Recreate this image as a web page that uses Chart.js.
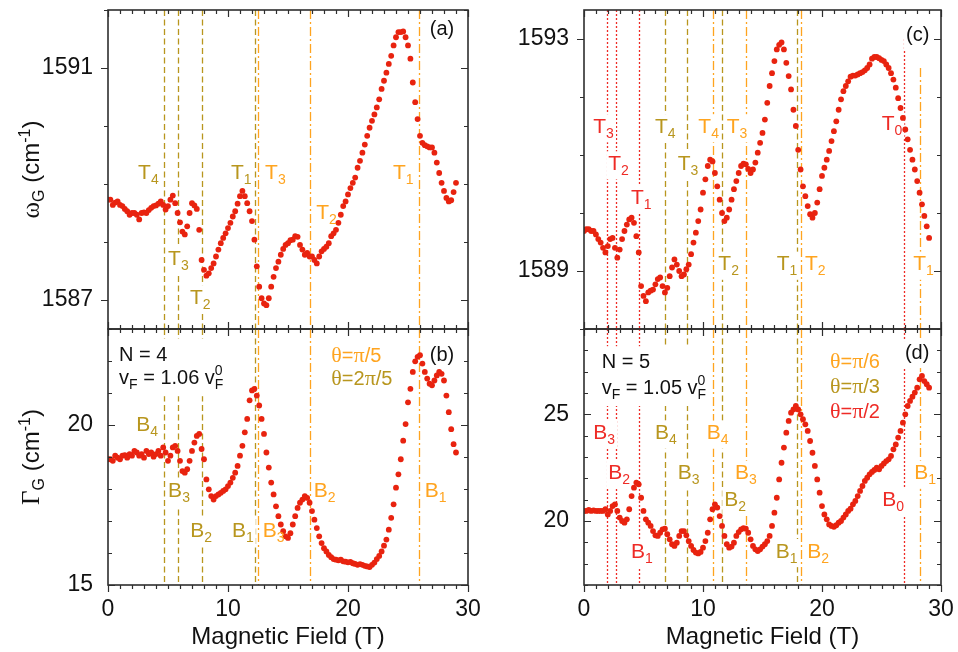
<!DOCTYPE html>
<html>
<head>
<meta charset="utf-8">
<script src="https://cdn.jsdelivr.net/npm/chart.js@4.4.1/dist/chart.umd.min.js"></script>
<style>
  html, body { margin: 0; padding: 0; background: #fff; }
  #wrap { position: relative; width: 958px; height: 652px; overflow: hidden; }
  #wrap canvas { position: absolute; left: 0; top: 0; }
</style>
</head>
<body>
<div id="wrap">
  <canvas id="pa" width="958" height="652"></canvas>
  <canvas id="pb" width="958" height="652"></canvas>
  <canvas id="pc" width="958" height="652"></canvas>
  <canvas id="pd" width="958" height="652"></canvas>
</div>
<script>
// Magnetic field (T) at which every spectrum was taken
const field = [0,0.2,0.4,0.6,0.8,1,1.2,1.4,1.6,1.8,2,2.2,2.4,2.6,2.8,3,3.2,3.4,3.6,3.8,4,4.2,4.4,4.6,4.8,
  5,5.2,5.4,5.6,5.8,6,6.2,6.4,6.6,6.8,7,7.2,7.4,7.6,7.8,8,8.2,8.4,8.6,8.8,9,9.2,9.4,9.6,9.8,
  10,10.2,10.4,10.6,10.8,11,11.2,11.4,11.6,11.8,12,12.2,12.4,12.6,12.8,13,13.2,13.4,13.6,13.8,14,14.2,14.4,14.6,14.8,
  15,15.2,15.4,15.6,15.8,16,16.2,16.4,16.6,16.8,17,17.2,17.4,17.6,17.8,18,18.2,18.4,18.6,18.8,19,19.2,19.4,19.6,19.8,
  20,20.2,20.4,20.6,20.8,21,21.2,21.4,21.6,21.8,22,22.2,22.4,22.6,22.8,23,23.2,23.4,23.6,23.8,24,24.2,24.4,24.6,24.8,
  25,25.2,25.4,25.6,25.8,26,26.2,26.4,26.6,26.8,27,27.2,27.4,27.6,27.8,28,28.2,28.4,28.6,28.8,29];

// G-band position ω_G (cm^-1), N = 4
const omegaN4 = [1588.73,1588.73,1588.64,1588.68,1588.70,1588.64,1588.62,1588.57,1588.53,1588.47,
  1588.50,1588.50,1588.47,1588.39,1588.50,1588.51,1588.50,1588.55,1588.59,1588.62,
  1588.63,1588.66,1588.70,1588.64,1588.56,1588.62,1588.73,1588.80,1588.67,1588.50,
  1588.34,1588.18,1588.13,1588.27,1588.50,1588.67,1588.63,1588.57,1588.21,1587.69,
  1587.52,1587.42,1587.46,1587.55,1587.63,1587.75,1587.87,1587.98,1588.07,1588.15,
  1588.24,1588.33,1588.44,1588.53,1588.66,1588.79,1588.88,1588.79,1588.67,1588.53,
  1588.36,1588.04,1587.58,1587.23,1587.03,1586.94,1586.91,1587.03,1587.23,1587.40,
  1587.55,1587.66,1587.78,1587.88,1587.95,1587.98,1588.03,1588.04,1588.10,1588.09,
  1587.95,1587.87,1587.78,1587.81,1587.75,1587.75,1587.69,1587.63,1587.75,1587.84,
  1587.88,1587.92,1587.98,1588.10,1588.15,1588.21,1588.33,1588.47,1588.62,1588.70,
  1588.82,1588.93,1589.02,1589.11,1589.28,1589.40,1589.54,1589.68,1589.83,1589.97,
  1590.09,1590.20,1590.32,1590.46,1590.64,1590.78,1590.92,1591.07,1591.21,1591.39,
  1591.53,1591.62,1591.62,1591.63,1591.53,1591.39,1591.16,1590.75,1590.41,1590.12,
  1589.83,1589.71,1589.67,1589.65,1589.63,1589.63,1589.54,1589.37,1589.19,1589.02,
  1588.88,1588.76,1588.70,1588.72,1588.86,1589.02];

// G-band width Γ_G (cm^-1), N = 4
const gammaN4 = [18.93,18.93,18.88,19.04,18.98,18.93,19.04,19.06,18.98,19.09,
  19.04,19.19,19.14,19.04,19.09,18.98,19.19,19.09,19.14,19.01,
  19.09,19.19,19.04,19.30,19.14,18.88,19.04,19.30,19.35,19.19,
  18.88,18.56,18.51,18.62,18.88,19.19,19.45,19.66,19.72,19.25,
  18.93,18.30,17.99,17.78,17.67,17.78,17.83,17.88,17.94,17.99,
  18.09,18.20,18.35,18.51,18.72,19.04,19.35,19.77,20.19,20.77,
  21.08,21.13,20.92,20.61,20.19,19.72,19.14,18.67,18.20,17.83,
  17.46,17.15,16.89,16.68,16.52,16.47,16.62,16.89,17.15,17.41,
  17.57,17.67,17.78,17.72,17.57,17.31,17.04,16.78,16.52,16.31,
  16.15,16.05,15.94,15.87,15.81,15.79,15.77,15.79,15.74,15.73,
  15.71,15.72,15.68,15.66,15.63,15.65,15.63,15.60,15.58,15.56,
  15.63,15.70,15.81,15.91,16.05,16.23,16.42,16.73,17.10,17.52,
  18.04,18.46,18.93,19.51,20.03,20.71,21.13,21.66,21.99,22.13,
  22.18,21.92,21.66,21.45,21.29,21.24,21.39,21.55,21.66,21.60,
  21.39,20.92,20.40,19.87,19.40,19.14];

// G-band position ω_G (cm^-1), N = 5
const omegaN5 = [1589.69,1589.72,1589.72,1589.69,1589.69,1589.63,1589.55,1589.49,1589.40,1589.32,
  1589.43,1589.55,1589.57,1589.40,1589.23,1589.37,1589.55,1589.69,1589.80,1589.89,
  1589.92,1589.83,1589.60,1589.32,1588.74,1588.57,1588.48,1588.63,1588.66,1588.68,
  1588.77,1588.86,1588.89,1588.74,1588.63,1588.71,1588.91,1589.06,1589.20,1589.11,
  1589.00,1588.91,1588.94,1589.03,1589.11,1589.29,1589.49,1589.66,1589.86,1590.06,
  1590.35,1590.58,1590.81,1590.92,1590.89,1590.69,1590.46,1590.23,1590.00,1589.86,
  1589.92,1590.06,1590.23,1590.41,1590.55,1590.69,1590.81,1590.85,1590.84,1590.76,
  1590.69,1590.75,1590.87,1591.04,1591.21,1591.38,1591.61,1591.90,1592.19,1592.41,
  1592.62,1592.82,1592.90,1592.94,1592.82,1592.59,1592.36,1592.13,1591.78,1591.50,
  1591.09,1590.75,1590.46,1590.29,1590.12,1589.98,1589.92,1590.00,1590.18,1590.41,
  1590.64,1590.78,1590.92,1591.07,1591.24,1591.41,1591.58,1591.78,1591.96,1592.10,
  1592.19,1592.27,1592.35,1592.37,1592.37,1592.39,1592.41,1592.43,1592.46,1592.50,
  1592.56,1592.66,1592.69,1592.69,1592.67,1592.64,1592.62,1592.56,1592.50,1592.41,
  1592.30,1592.16,1591.98,1591.81,1591.64,1591.44,1591.27,1591.09,1590.92,1590.75,
  1590.55,1590.35,1590.15,1589.95,1589.77,1589.57];

// G-band width Γ_G (cm^-1), N = 5
const gammaN5 = [20.47,20.47,20.52,20.47,20.50,20.47,20.47,20.47,20.47,20.55,
  20.31,20.47,20.70,20.78,20.47,20.16,20.00,19.92,20.08,20.55,
  21.17,21.56,21.80,21.72,21.09,20.47,20.08,19.92,19.77,19.53,
  19.33,19.30,19.45,19.61,19.64,19.38,19.14,18.91,18.83,18.98,
  19.30,19.53,19.53,19.33,19.06,18.83,18.64,18.52,18.48,18.55,
  18.75,19.06,19.45,20.08,20.55,20.78,20.63,20.23,19.77,19.30,
  18.91,18.75,18.80,18.98,19.30,19.48,19.61,19.66,19.64,19.45,
  19.14,18.83,18.67,18.59,18.67,18.80,18.91,19.06,19.30,19.77,
  20.39,21.09,21.95,22.73,23.44,24.14,24.69,25.08,25.23,25.39,
  25.23,25.00,24.77,24.53,24.22,23.75,23.20,22.58,21.95,21.33,
  20.70,20.31,20.08,19.84,19.77,19.73,19.80,19.92,20.00,20.16,
  20.31,20.47,20.58,20.78,20.94,21.17,21.41,21.64,21.88,22.03,
  22.19,22.30,22.39,22.50,22.42,22.58,22.70,22.81,22.89,23.05,
  23.36,23.59,23.91,24.22,24.61,25.00,25.39,25.63,25.83,26.02,
  26.25,26.64,26.80,26.56,26.41,26.25];

// Axis ticks
const xTickVals = [0,1,2,3,4,5,6,7,8,9,10,11,12,13,14,15,16,17,18,19,20,21,22,23,24,25,26,27,28,29,30];
const xLabelVals = [0,10,20,30];
const omegaN4Ticks = [1587,1588,1589,1590,1591,1592];
const omegaN4Labels = [1587,1591];
const gammaN4Ticks = [15,16,17,18,19,20,21,22,23];
const gammaN4Labels = [15,20];
const omegaN5Ticks = [1588,1589,1590,1591,1592,1593];
const omegaN5Labels = [1589,1593];
const gammaN5Ticks = [17,18,19,20,21,22,23,24,25,26,27,28,29];
const gammaN5Labels = [20,25];

// Calculated resonance fields (T) for each tilt angle
const n4Olive = [4.66, 5.80, 7.84, 12.25];      // θ = 2π/5
const n4Orange = [12.53, 16.82, 25.92];         // θ = π/5
const n5Red = [1.90, 2.69, 4.62, 26.89];        // θ = π/2
const n5RedFrom = [null, null, null, 1593];
const n5Olive = [6.78, 8.63, 11.60, 17.87];     // θ = π/3
const n5Orange = [10.80, 13.62, 18.21, 28.23];  // θ = π/6
const n5OrangeFrom = [null, null, null, 1592.5];

const SANS = "'Liberation Sans', Arial, sans-serif";
const SERIF = "'Liberation Serif', 'Times New Roman', serif";
const INK = '#111111';
const AXIS = '#2e2e2e';
const DOT = '#e8230f';
const OLIVE = '#b8961e';
const ORANGE = '#ffa41f';
const RED = '#ee2b26';
const DASH = { olive: [6, 3.5], orange: [9, 3, 2, 3], red: [2, 2] };

// rich-text helpers: a run is {t, s(size), f(font), dy, stay}
function fontOf(r) { return `${r.s}px ${r.f || SANS}`; }
function layoutRuns(ctx, runs) {
  let w = 0;
  const items = runs.map(r => {
    ctx.font = fontOf(r);
    const rw = ctx.measureText(r.t).width;
    const it = Object.assign({}, r, { ox: w, w: rw });
    if (!r.stay) w += rw;
    return it;
  });
  return { items, w };
}
function drawRuns(ctx, runs, x, baseline, color) {
  const L = layoutRuns(ctx, runs);
  ctx.fillStyle = color;
  ctx.textBaseline = 'alphabetic';
  ctx.textAlign = 'left';
  L.items.forEach(it => { ctx.font = fontOf(it); ctx.fillText(it.t, x + it.ox, baseline + (it.dy || 0)); });
  return L.w;
}
const lbl = (letter, n, x, y, color) => ({ runs: [{ t: letter, s: 21 }, { t: n, s: 14, dy: 5 }], x, y, color });
const txt = (runs, x, y, color, pad, minW) => ({ runs, x, y, color, pad, minW });
const theta = (a, b, tail) => [{ t: 'θ', s: 22, f: SERIF }, { t: '=' + a, s: 20 }, { t: 'π', s: 22, f: SERIF }, { t: tail, s: 20 }];
const vF = v => [{ t: 'v', s: 20 }, { t: 'F', s: 14, dy: 5 }, { t: ' = ' + v + ' v', s: 20 }, { t: '0', s: 14, dy: -9, stay: true }, { t: 'F', s: 14, dy: 5 }];

function labelGeom(ctx, lb, xs, ys) {
  const px = xs.getPixelForValue(lb.x);
  const py = ys.getPixelForValue(lb.y);
  const s0 = lb.runs[0].s;
  const base = py + 0.36 * s0;
  const w = Math.max(layoutRuns(ctx, lb.runs).w, lb.minW || 0);
  const pad = lb.pad == null ? 2 : lb.pad;
  return { px, base, box: [px - pad, base - 0.8 * s0 - pad, w + 2 * pad, 1.15 * s0 + 2 * pad] };
}

function panelPlugin(p) {
  return {
    id: 'panel_' + p.key,
    beforeDatasetsDraw(chart) {
      const { ctx, chartArea: a, scales: { x, y } } = chart;
      ctx.save();
      ctx.beginPath();
      ctx.rect(a.left, a.top, a.right - a.left, a.bottom - a.top);
      ctx.clip();
      p.lines.forEach(L => {
        const px = Math.round(x.getPixelForValue(L.x)) + 0.5;
        const top = L.from != null ? y.getPixelForValue(L.from) : a.top;
        ctx.strokeStyle = L.color;
        ctx.lineWidth = 1.3;
        ctx.setLineDash(L.dash);
        ctx.beginPath();
        ctx.moveTo(px, top);
        ctx.lineTo(px, a.bottom);
        ctx.stroke();
      });
      ctx.setLineDash([]);
      ctx.fillStyle = '#ffffff';
      p.labels.forEach(lb => {
        const g = labelGeom(ctx, lb, x, y);
        ctx.fillRect(g.box[0], g.box[1], g.box[2], g.box[3]);
      });
      ctx.restore();
    },
    afterDatasetsDraw(chart) {
      const { ctx, chartArea: a, scales: { x, y } } = chart;
      ctx.save();
      p.labels.forEach(lb => {
        const g = labelGeom(ctx, lb, x, y);
        drawRuns(ctx, lb.runs, g.px, g.base, lb.color);
      });
      // frame
      ctx.strokeStyle = AXIS;
      ctx.lineWidth = 1.6;
      ctx.strokeRect(a.left, a.top, a.right - a.left, a.bottom - a.top);
      // tick marks on all four sides
      ctx.lineWidth = 1.2;
      ctx.beginPath();
      xTickVals.forEach(v => {
        const px = Math.round(x.getPixelForValue(v)) + 0.5;
        const len = xLabelVals.includes(v) ? 7 : 4;
        ctx.moveTo(px, a.top); ctx.lineTo(px, a.top + len);
        if (p.bottomOut) { ctx.moveTo(px, a.bottom); ctx.lineTo(px, a.bottom + len); }
        else { ctx.moveTo(px, a.bottom); ctx.lineTo(px, a.bottom - len); }
      });
      p.yTicks.forEach(v => {
        const py = Math.round(y.getPixelForValue(v)) + 0.5;
        const len = p.yLabels.includes(v) ? 7 : 4;
        if (p.leftOut) { ctx.moveTo(a.left, py); ctx.lineTo(a.left - len, py); }
        else { ctx.moveTo(a.left, py); ctx.lineTo(a.left + len, py); }
        ctx.moveTo(a.right, py); ctx.lineTo(a.right - len, py);
      });
      ctx.stroke();
      ctx.restore();
    },
    afterDraw(chart) {
      if (!p.title) return;
      const { ctx, chartArea: a } = chart;
      ctx.save();
      const w = layoutRuns(ctx, p.title).w;
      ctx.translate(p.titleX, (a.top + a.bottom) / 2);
      ctx.rotate(-Math.PI / 2);
      drawRuns(ctx, p.title, -w / 2, 8.5, INK);
      ctx.restore();
    }
  };
}

function makePanel(id, p) {
  return new Chart(document.getElementById(id), {
    type: 'scatter',
    data: {
      datasets: [{
        data: field.map((f, i) => ({ x: f, y: p.values[i] })),
        pointRadius: 2.9,
        pointBackgroundColor: DOT,
        pointBorderWidth: 0,
        showLine: false
      }]
    },
    options: {
      responsive: false,
      animation: false,
      events: [],
      layout: { padding: p.padding },
      plugins: { legend: { display: false }, tooltip: { enabled: false } },
      scales: {
        x: {
          type: 'linear', position: 'bottom', min: 0, max: 30,
          display: p.showX,
          grid: { display: false, drawTicks: false },
          border: { display: false },
          afterBuildTicks: s => { s.ticks = xTickVals.map(v => ({ value: v })); },
          afterFit: s => {
            s.height = p.showX ? 67 : 0;
            s.paddingLeft = 0; s.paddingRight = 0; s.paddingTop = 0; s.paddingBottom = 0;
          },
          ticks: {
            padding: 11, color: INK, autoSkip: false, maxRotation: 0,
            font: { family: SANS, size: 23 },
            callback: v => (xLabelVals.includes(v) ? String(v) : '')
          },
          title: {
            display: true, text: 'Magnetic Field (T)', color: INK,
            font: { family: SANS, size: 24 }, padding: { top: 0, bottom: 0 }
          }
        },
        y: {
          type: 'linear', position: 'left', min: p.yMin, max: p.yMax,
          grid: { display: false, drawTicks: false },
          border: { display: false },
          afterBuildTicks: s => { s.ticks = p.yTicks.map(v => ({ value: v })); },
          afterFit: s => {
            s.width = p.yWidth;
            s.paddingLeft = 0; s.paddingRight = 0; s.paddingTop = 0; s.paddingBottom = 0;
          },
          ticks: {
            padding: 15, color: INK, autoSkip: false,
            font: { family: SANS, size: 23 },
            callback: v => (p.yLabels.includes(v) ? String(v) : '')
          }
        }
      }
    },
    plugins: [panelPlugin(p)]
  });
}

const lineSet = (vals, color, dash, from) => vals.map((f, i) => ({ x: f, color, dash, from: from ? from[i] : null }));
const leftLines = [...lineSet(n4Olive, OLIVE, DASH.olive), ...lineSet(n4Orange, ORANGE, DASH.orange)];

// (a) ω_G, N = 4
makePanel('pa', {
  key: 'a', values: omegaN4, yMin: 1586.5, yMax: 1592.0,
  yTicks: omegaN4Ticks, yLabels: omegaN4Labels,
  yWidth: 108, showX: false, leftOut: true, bottomOut: false,
  padding: { left: 0, top: 10, right: 490, bottom: 323 },
  lines: leftLines,
  labels: [
    lbl('T', '4', 2.51, 1589.21, OLIVE), lbl('T', '3', 5.01, 1587.73, OLIVE),
    lbl('T', '2', 6.83, 1587.06, OLIVE), lbl('T', '1', 10.25, 1589.21, OLIVE),
    lbl('T', '3', 13.09, 1589.21, ORANGE), lbl('T', '2', 17.35, 1588.52, ORANGE),
    lbl('T', '1', 23.75, 1589.21, ORANGE),
    txt([{ t: '(a)', s: 20 }], 26.82, 1591.70, INK)
  ],
  title: [{ t: 'ω', s: 25, f: SERIF }, { t: 'G', s: 16, dy: 5 }, { t: ' (cm', s: 24 }, { t: '-1', s: 16, dy: -9 }, { t: ')', s: 24 }],
  titleX: 30
});

// (b) Γ_G, N = 4
makePanel('pb', {
  key: 'b', values: gammaN4, yMin: 15, yMax: 23,
  yTicks: gammaN4Ticks, yLabels: gammaN4Labels,
  yWidth: 108, showX: true, leftOut: false, bottomOut: true,
  padding: { left: 0, top: 329, right: 490, bottom: 0 },
  lines: leftLines,
  labels: [
    lbl('B', '4', 2.36, 20.06, OLIVE), lbl('B', '3', 5.01, 17.99, OLIVE),
    lbl('B', '2', 6.85, 16.73, OLIVE), lbl('B', '1', 10.33, 16.73, OLIVE),
    lbl('B', '3', 12.89, 16.73, ORANGE), lbl('B', '2', 17.15, 17.99, ORANGE),
    lbl('B', '1', 26.40, 17.99, ORANGE),
    txt([{ t: 'N = 4', s: 20 }], 0.92, 22.23, INK, 6, 106),
    txt(vF('1.06'), 0.92, 21.50, INK, 5),
    txt(theta('', '', '/5'), 18.61, 22.21, ORANGE),
    txt(theta('2', '', '/5'), 18.61, 21.51, OLIVE),
    txt([{ t: '(b)', s: 20 }], 26.82, 22.23, INK)
  ],
  title: [{ t: 'Γ', s: 25, f: SERIF }, { t: 'G', s: 16, dy: 5 }, { t: ' (cm', s: 24 }, { t: '-1', s: 16, dy: -9 }, { t: ')', s: 24 }],
  titleX: 30
});

const rightLines = [
  ...lineSet(n5Red, RED, DASH.red, n5RedFrom),
  ...lineSet(n5Olive, OLIVE, DASH.olive),
  ...lineSet(n5Orange, ORANGE, DASH.orange, n5OrangeFrom)
];
const rightLinesLower = [
  ...lineSet(n5Red, RED, DASH.red),
  ...lineSet(n5Olive, OLIVE, DASH.olive),
  ...lineSet(n5Orange, ORANGE, DASH.orange)
];

// (c) ω_G, N = 5
makePanel('pc', {
  key: 'c', values: omegaN5, yMin: 1588.0, yMax: 1593.5,
  yTicks: omegaN5Ticks, yLabels: omegaN5Labels,
  yWidth: 584, showX: false, leftOut: true, bottomOut: false,
  padding: { left: 0, top: 10, right: 17, bottom: 323 },
  lines: rightLines,
  labels: [
    lbl('T', '3', 0.78, 1591.51, RED), lbl('T', '2', 2.04, 1590.87, RED),
    lbl('T', '1', 3.95, 1590.29, RED), lbl('T', '0', 25.02, 1591.57, RED),
    lbl('T', '4', 5.97, 1591.51, OLIVE), lbl('T', '3', 7.87, 1590.87, OLIVE),
    lbl('T', '2', 11.29, 1589.14, OLIVE), lbl('T', '1', 16.19, 1589.14, OLIVE),
    lbl('T', '4', 9.61, 1591.51, ORANGE), lbl('T', '3', 11.99, 1591.51, ORANGE),
    lbl('T', '2', 18.57, 1589.14, ORANGE), lbl('T', '1', 27.67, 1589.14, ORANGE),
    txt([{ t: '(c)', s: 20 }], 27.06, 1593.09, INK)
  ]
});

// (d) Γ_G, N = 5
makePanel('pd', {
  key: 'd', values: gammaN5, yMin: 17, yMax: 29,
  yTicks: gammaN5Ticks, yLabels: gammaN5Labels,
  yWidth: 584, showX: true, leftOut: false, bottomOut: true,
  padding: { left: 0, top: 329, right: 17, bottom: 0 },
  lines: rightLinesLower,
  labels: [
    lbl('B', '3', 0.78, 24.18, RED), lbl('B', '2', 2.04, 22.30, RED),
    lbl('B', '1', 3.95, 18.63, RED), lbl('B', '0', 25.07, 21.06, RED),
    lbl('B', '4', 5.97, 24.18, OLIVE), lbl('B', '3', 7.87, 22.30, OLIVE),
    lbl('B', '2', 11.79, 21.06, OLIVE), lbl('B', '1', 16.11, 18.63, OLIVE),
    lbl('B', '4', 10.31, 24.18, ORANGE), lbl('B', '3', 12.69, 22.30, ORANGE),
    lbl('B', '2', 18.77, 18.63, ORANGE), lbl('B', '1', 27.76, 22.30, ORANGE),
    txt([{ t: 'N = 5', s: 20 }], 1.49, 27.50, INK, 6, 100),
    txt(vF('1.05'), 1.49, 26.29, INK, 5),
    txt(theta('', '', '/6'), 20.67, 27.53, ORANGE),
    txt(theta('', '', '/3'), 20.67, 26.37, OLIVE),
    txt(theta('', '', '/2'), 20.67, 25.20, RED),
    txt([{ t: '(d)', s: 20 }], 26.97, 27.93, INK)
  ]
});
</script>
</body>
</html>
